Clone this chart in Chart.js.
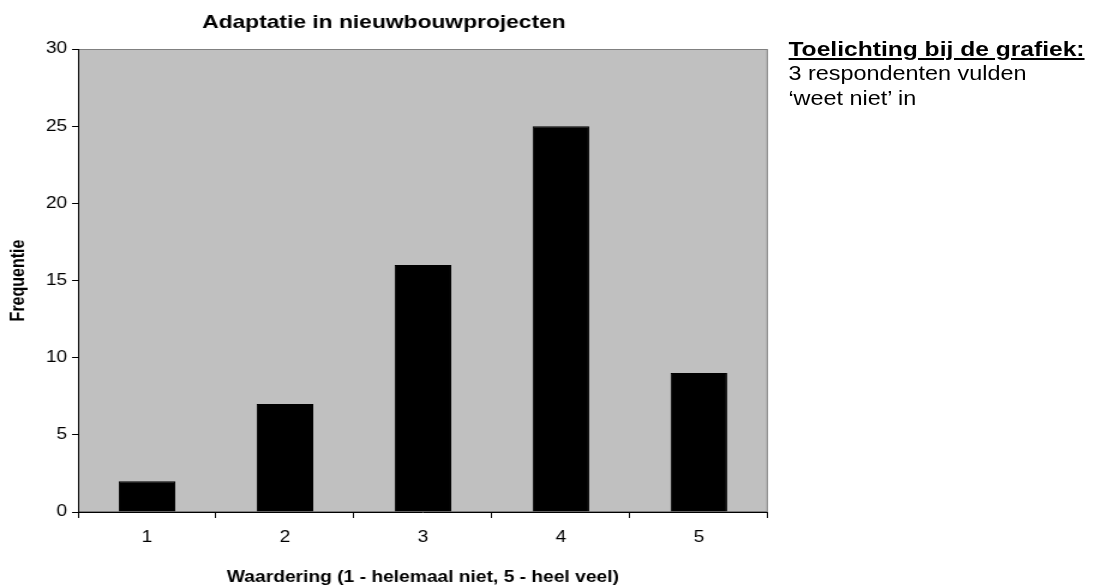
<!DOCTYPE html>
<html>
<head>
<meta charset="utf-8">
<script src="https://cdn.jsdelivr.net/npm/chart.js@4"></script>
<style>
  html,body{margin:0;padding:0;background:#fff;overflow:hidden;}
  /* the reference is stretched sideways, so the whole stage is too */
  #stage{position:relative;width:919px;height:588px;transform:scaleX(1.2);transform-origin:0 0;}
  #note{position:absolute;left:657px;top:36px;font-family:"Liberation Sans",Arial,sans-serif;color:#000;white-space:nowrap;}
  #note .head{font-weight:bold;font-size:20.5px;text-decoration:underline;line-height:25px;}
  #note .body{font-size:19.5px;line-height:25px;}
</style>
</head>
<body>
<div id="stage">
  <canvas id="c"></canvas>
  <div id="note">
    <div class="head">Toelichting bij de grafiek:</div>
    <div class="body">3 respondenten vulden<br>‘weet niet’ in</div>
  </div>
</div>
<script>
// data
const categories = ['1','2','3','4','5'];
const frequencies = [2, 7, 16, 25, 9];
const yTicks = [0, 5, 10, 15, 20, 25, 30];

const FONT = '"Liberation Sans", Arial, sans-serif';
const SX = 1.2;

/* plot area: grey fill + thin grey frame */
const plotBg = {
  id:'plotBg',
  beforeDraw(chart){
    const {ctx, chartArea:a} = chart;
    ctx.save();
    ctx.fillStyle = '#c0c0c0';
    ctx.fillRect(a.left, a.top, a.right-a.left, a.bottom-a.top);
    ctx.strokeStyle = '#808080';
    ctx.lineWidth = 1;
    ctx.strokeRect(a.left+0.5, a.top+0.5, a.right-a.left-1, a.bottom-a.top-1);
    ctx.restore();
  }
};

new Chart(document.getElementById('c'), {
  type:'bar',
  data:{
    labels: categories,
    datasets:[{
      data: frequencies,
      backgroundColor:'#000',
      borderColor:'#000',
      borderWidth:1,
      barPercentage:0.41,
      categoryPercentage:1
    }]
  },
  options:{
    responsive:true,
    maintainAspectRatio:false,
    animation:false,
    layout:{ padding:{left:0, right:(1103-768)/SX, top:0, bottom:0} },
    plugins:{
      legend:{display:false},
      tooltip:{enabled:false},
      title:{
        display:true,
        text:'Adaptatie in nieuwbouwprojecten',
        color:'#000',
        font:{family:FONT, size:19, weight:'bold'},
        padding:{top:11, bottom:15.2}
      }
    },
    scales:{
      x:{
        afterFit(s){ s.height = 76; },
        border:{color:'#000', width:1},
        grid:{drawOnChartArea:false, color:'#000', tickLength:6, offset:true},
        ticks:{color:'#000', font:{family:FONT, size:16}, padding:10},
        title:{
          display:true,
          text:'Waardering (1 - helemaal niet, 5 - heel veel)',
          color:'#000',
          font:{family:FONT, size:16, weight:'bold'},
          padding:{top:2, bottom:1}
        }
      },
      y:{
        min: yTicks[0],
        max: yTicks[yTicks.length-1],
        afterFit(s){ s.width = 78/SX; },
        afterBuildTicks(s){ s.ticks = yTicks.map(v => ({value:v})); },
        border:{color:'#000', width:1},
        grid:{drawOnChartArea:false, color:'#000', tickLength:5},
        ticks:{color:'#000', font:{family:FONT, size:16}, padding:4},
        title:{
          display:true,
          text:'Frequentie',
          color:'#000',
          font:{family:FONT, size:16, weight:'bold'},
          padding:{top:6, bottom:2}
        }
      }
    }
  },
  plugins:[plotBg]
});
</script>
</body>
</html>
